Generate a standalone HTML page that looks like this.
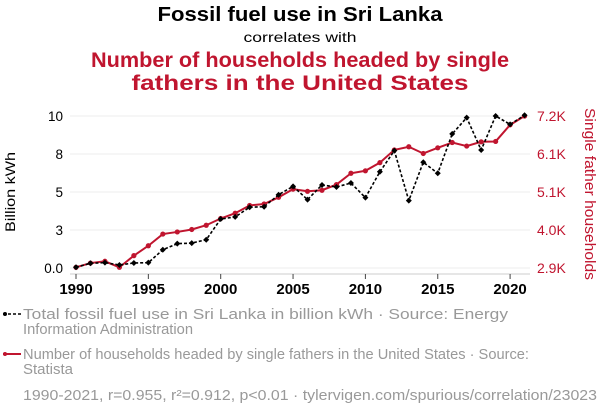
<!DOCTYPE html>
<html><head><meta charset="utf-8"><style>
body{margin:0;width:600px;height:414px;background:#fff;overflow:hidden;font-family:"Liberation Sans",sans-serif}
svg{position:absolute;left:0;top:0}
</style></head><body>
<svg width="600" height="414" id="chart">
<text x="300" y="21" text-anchor="middle" font-size="20.5" font-weight="bold" fill="#000" textLength="285" lengthAdjust="spacingAndGlyphs">Fossil fuel use in Sri Lanka</text>
<text x="300" y="42" text-anchor="middle" font-size="14" fill="#000" textLength="113" lengthAdjust="spacingAndGlyphs">correlates with</text>
<text x="300" y="67" text-anchor="middle" font-size="21" font-weight="bold" fill="#c0152f" textLength="418" lengthAdjust="spacingAndGlyphs">Number of households headed by single</text>
<text x="300" y="90" text-anchor="middle" font-size="21" font-weight="bold" fill="#c0152f" textLength="337" lengthAdjust="spacingAndGlyphs">fathers in the United States</text>
<text transform="translate(15,192) rotate(-90)" text-anchor="middle" font-size="14" fill="#000" textLength="80" lengthAdjust="spacingAndGlyphs">Billion kWh</text>
<text transform="translate(585,194) rotate(90)" text-anchor="middle" font-size="14.5" fill="#c0152f" textLength="172" lengthAdjust="spacingAndGlyphs">Single father households</text>
<g id="grid"></g><g id="axes"></g><g id="marks"></g>
<g>
<line x1="3" y1="314" x2="21" y2="314" stroke="#000" stroke-width="1.5" stroke-dasharray="3,2"/><circle cx="5" cy="314" r="2" fill="#000"/>
<text x="23" y="319" font-size="14.5" fill="#999" textLength="485" lengthAdjust="spacingAndGlyphs">Total fossil fuel use in Sri Lanka in billion kWh · Source: Energy</text>
<text x="23" y="334" font-size="14.5" fill="#999" textLength="170" lengthAdjust="spacingAndGlyphs">Information Administration</text></g>
<g>
<line x1="3" y1="354" x2="21" y2="354" stroke="#c0152f" stroke-width="2"/><circle cx="5" cy="354" r="2" fill="#c0152f"/>
<text x="23" y="359" font-size="14.5" fill="#999" textLength="506" lengthAdjust="spacingAndGlyphs">Number of households headed by single fathers in the United States · Source:</text>
<text x="23" y="374" font-size="14.5" fill="#999" textLength="50" lengthAdjust="spacingAndGlyphs">Statista</text></g>
<text x="23" y="400" font-size="14.5" fill="#999" textLength="574" lengthAdjust="spacingAndGlyphs">1990-2021, r=0.955, r²=0.912, p&lt;0.01 · tylervigen.com/spurious/correlation/23023</text>
</svg>
<script>
const years=[1990,1991,1992,1993,1994,1995,1996,1997,1998,1999,2000,2001,2002,2003,2004,2005,2006,2007,2008,2009,2010,2011,2012,2013,2014,2015,2016,2017,2018,2019,2020,2021];
const fossil=[0.05,0.31,0.35,0.2,0.33,0.35,1.2,1.6,1.64,1.86,3.22,3.36,4.0,4.03,4.82,5.37,4.5,5.46,5.33,5.59,4.63,6.33,7.72,4.43,6.96,6.23,8.82,9.89,7.76,10.0,9.45,10.05];
const households=[2.92,3.04,3.09,2.92,3.25,3.53,3.86,3.92,3.99,4.11,4.30,4.45,4.67,4.71,4.90,5.13,5.07,5.10,5.26,5.58,5.65,5.88,6.24,6.33,6.14,6.30,6.45,6.35,6.47,6.48,6.95,7.20];
const leftTicks=[0,2.5,5,7.5,10];
const leftLabels=["0.0","3","5","8","10"];
const rightTicks=[2.9,3.975,5.05,6.125,7.2];
const rightLabels=["2.9K","4.0K","5.1K","6.1K","7.2K"];
const xTicks=[1990,1995,2000,2005,2010,2015,2020];
const NS="http://www.w3.org/2000/svg";
const x=v=>76+(v-1990)*14.47;
const yL=v=>268-v*15.2;
const yR=v=>268-(v-2.9)/4.3*152;
function mk(t,a,p){const e=document.createElementNS(NS,t);for(const k in a)e.setAttribute(k,a[k]);p.appendChild(e);return e;}
const grid=document.getElementById('grid'),axes=document.getElementById('axes'),marks=document.getElementById('marks');
leftTicks.forEach((t,i)=>{
 const g=mk('line',{x1:70,x2:530,y1:yL(t),y2:yL(t),stroke:'#eee','stroke-width':1},grid);
 
 
 const l=mk('text',{x:63,y:yL(t)+5,'text-anchor':'end','font-size':13.5,fill:'#000'},axes);l.textContent=leftLabels[i];
 
 
});
rightTicks.forEach((t,i)=>{
 const l=mk('text',{x:537,y:yR(t)+5,'font-size':14,fill:'#c0152f'},axes);l.textContent=rightLabels[i];
 
 
});
const ax=mk('line',{x1:70,x2:530,y1:274,y2:274,stroke:'#ccc','stroke-width':1},axes);


xTicks.forEach(t=>{
 mk('line',{x1:x(t),x2:x(t),y1:274,y2:279,stroke:'#444','stroke-width':1},axes);
 const l=mk('text',{x:x(t),y:294,'text-anchor':'middle','font-size':15,'font-weight':'bold',fill:'#000'},axes);l.textContent=t;
 
 
});
const rp=mk('polyline',{points:years.map((yr,i)=>x(yr)+','+yR(households[i])).join(' '),fill:'none',stroke:'#c0152f','stroke-width':2},marks);


years.forEach((yr,i)=>{const c=mk('circle',{cx:x(yr),cy:yR(households[i]),r:2.6,fill:'#c0152f'},marks);
 
 });
const bp=mk('polyline',{points:years.map((yr,i)=>x(yr)+','+yL(fossil[i])).join(' '),fill:'none',stroke:'#000','stroke-width':1.6,'stroke-dasharray':'3,2'},marks);


years.forEach((yr,i)=>{const cx=x(yr),cy=yL(fossil[i]);
 const d=mk('polygon',{points:`${cx},${cy-3} ${cx+3},${cy} ${cx},${cy+3} ${cx-3},${cy}`,fill:'#000'},marks);
 
 });
</script>
</body></html>
